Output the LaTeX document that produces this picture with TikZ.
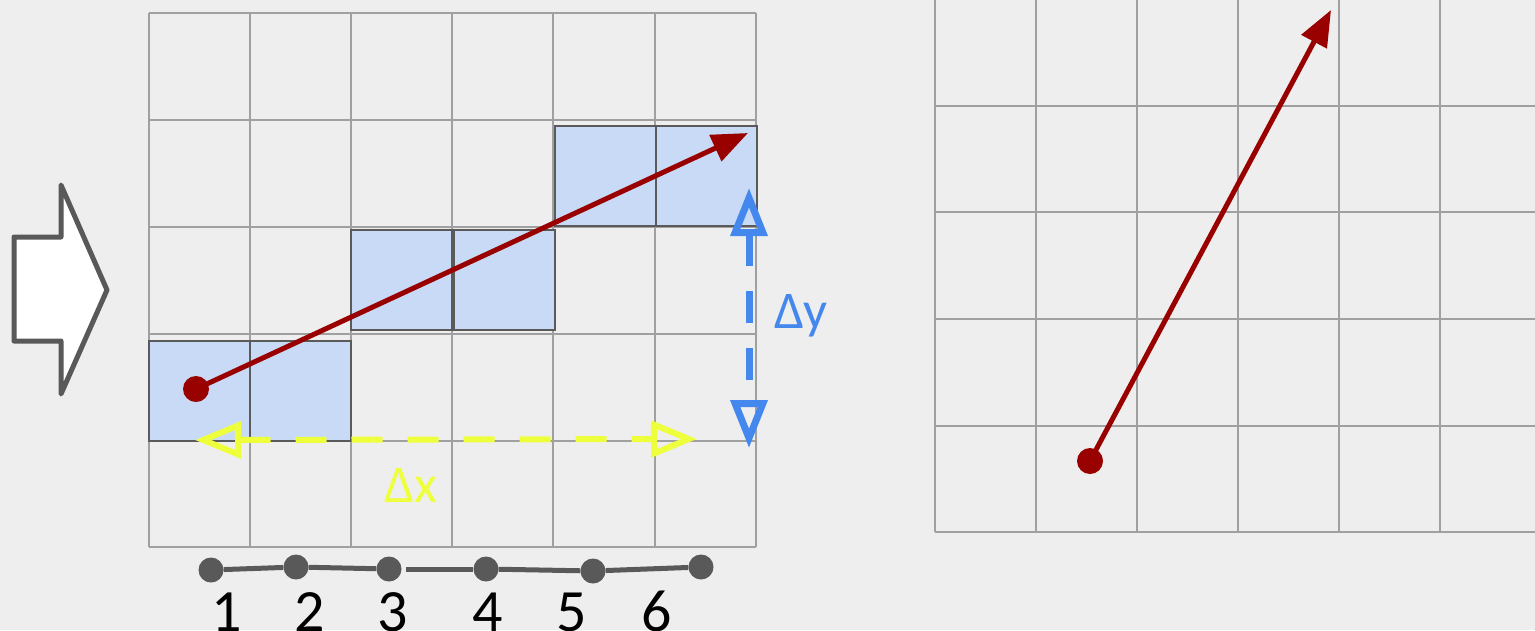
\documentclass[tikz,border=0pt]{standalone}
\usepackage{fontspec}
\setmainfont{Carlito}
\usetikzlibrary{arrows.meta}
\definecolor{bg}{RGB}{238,238,238}
\definecolor{gridc}{RGB}{160,160,160}
\definecolor{cellfill}{RGB}{200,218,245}
\definecolor{cellline}{RGB}{90,90,90}
\definecolor{darkred}{RGB}{153,0,0}
\definecolor{ycol}{RGB}{238,255,60}
\definecolor{bcol}{RGB}{68,136,238}
\definecolor{dgray}{RGB}{89,89,89}
\tikzset{
  gridline/.style={draw=gridc, line width=2pt},
  cell/.style={draw=cellline, fill=cellfill, line width=2pt, minimum width=101pt, minimum height=100pt, inner sep=0pt},
  reddot/.style={circle, fill=darkred, minimum size=26pt, inner sep=0pt},
  redarrow/.style={draw=darkred, line width=5pt, -{Triangle[length=36pt,width=28pt]}},
  ydash/.style={draw=ycol, line width=6pt, dash pattern=on 31pt off 25pt,
     {Triangle[open,length=46pt,width=36pt]}-{Triangle[open,length=46pt,width=36pt]}},
  bdash/.style={draw=bcol, line width=7pt, dash pattern=on 32pt off 25pt,
     {Triangle[open,length=48pt,width=36pt]}-{Triangle[open,length=48pt,width=36pt]}},
  graydot/.style={circle, fill=dgray, minimum size=25pt, inner sep=0pt},
  tline/.style={draw=dgray, line width=5pt},
  numlbl/.style={anchor=base, font=\fontsize{60}{66}\selectfont, inner sep=0pt},
  dlbl/.style={anchor=base, font=\fontsize{53}{60}\selectfont, inner sep=0pt},
  blockarrow/.style={draw=dgray, fill=white, line width=5pt, line join=round}
}
\begin{document}
\begin{tikzpicture}[x=1pt,y=-1pt]
\useasboundingbox[fill=bg] (0,0) rectangle (1535,630);
% block arrow
\draw[blockarrow] (14,237) -- (61,237) -- (61,185) -- (107,290) -- (61,394) -- (61,341) -- (14,341) -- cycle;
% left grid
\foreach \x in {149,250,351,452,553,655,756} \draw[gridline] (\x,13) -- (\x,547);
\foreach \y in {13,120,227,334,441,547} \draw[gridline] (149,\y) -- (756,\y);
% right grid
\foreach \x in {935,1036,1137,1238,1339,1440} \draw[gridline] (\x,-5) -- (\x,532);
\foreach \y in {106,212,319,426,532} \draw[gridline] (935,\y) -- (1540,\y);
% cells
\node[cell] (c1) at (199.5,391) {};
\node[cell] (c2) at (300.5,391) {};
\node[cell] (c3) at (401.5,280) {};
\node[cell] (c4) at (504.5,279.5) {};
\node[cell] (c5) at (605.5,176) {};
\node[cell] (c6) at (706.5,176) {};
% delta x
\coordinate (xl) at (195,440);
\coordinate (xr) at (697,439);
\draw[ydash] (xl) -- (xr);
\node[dlbl, text=ycol] (dx) at (411,502) {Δx};
% delta y
\coordinate (yt) at (749,188);
\coordinate (yb) at (749,448);
\draw[bdash] (yt) -- (yb);
\node[dlbl, text=bcol] (dy) at (801,328) {Δy};
% red arrow left
\node[reddot] (p1) at (196,389) {};
\coordinate (t1) at (748,133);
\draw[redarrow] (p1.center) -- (t1);
% red arrow right
\node[reddot] (p2) at (1090,461) {};
\coordinate (t2) at (1331,10);
\draw[redarrow] (p2.center) -- (t2);
% bottom dots
\node[graydot] (d1) at (211,570) {};
\node[graydot] (d2) at (296,567) {};
\node[graydot] (d3) at (389,569) {};
\node[graydot] (d4) at (486,569) {};
\node[graydot] (d5) at (593,571) {};
\node[graydot] (d6) at (701,567) {};
\coordinate (s34) at (406,569);
\draw[tline] (d1) -- (d2);
\draw[tline] (d2) -- (d3);
\draw[tline] (s34) -- (d4);
\draw[tline] (d4) -- (d5);
\draw[tline] (d5) -- (d6);
% numbers
\node[numlbl] (n1) at (227,631) {1};
\node[numlbl] (n2) at (310,631) {2};
\node[numlbl] (n3) at (393,631) {3};
\node[numlbl] (n4) at (488,631) {4};
\node[numlbl] (n5) at (572,631) {5};
\node[numlbl] (n6) at (657,631) {6};
\end{tikzpicture}
\end{document}
